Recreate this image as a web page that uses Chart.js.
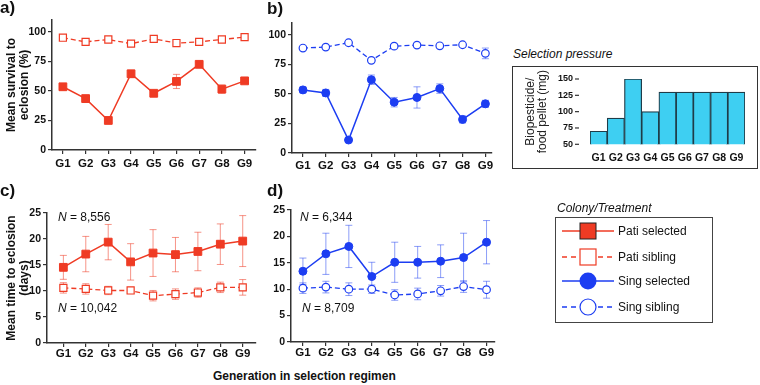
<!DOCTYPE html>
<html>
<head>
<script src="https://cdn.jsdelivr.net/npm/chart.js"></script>
<style>
  body { margin: 0; width: 760px; height: 385px; position: relative; overflow: hidden; background: #fff;
         font-family: "Liberation Sans", Arial, sans-serif; color: #111; }
  canvas { position: absolute; }
  .abs { position: absolute; white-space: nowrap; }
  .panel { font-weight: bold; font-size: 17px; line-height: 17px; }
  .note { font-size: 12px; line-height: 14px; }
  .key { position: absolute; left: 4px; font-size: 12px; line-height: 20px; height: 20px; }
  .key svg { vertical-align: top; }
  .key span { position: absolute; left: 58px; top: 0; }
</style>
</head>
<body>
<canvas id="panelA" width="262" height="175" style="left:0;top:0"></canvas>
<canvas id="panelB" width="250" height="175" style="left:250px;top:0"></canvas>
<canvas id="panelC" width="262" height="180" style="left:0;top:180px"></canvas>
<canvas id="panelD" width="250" height="180" style="left:250px;top:180px"></canvas>
<canvas id="dose" width="242" height="100" style="left:514px;top:68px"></canvas>

<div class="abs panel" style="left:0;top:-1px">a)</div>
<div class="abs panel" style="left:267px;top:0">b)</div>
<div class="abs panel" style="left:0;top:182px">c)</div>
<div class="abs panel" style="left:267px;top:182px">d)</div>

<div class="abs note" style="left:58px;top:210px"><i>N</i> = 8,556</div>
<div class="abs note" style="left:58px;top:301px"><i>N</i> = 10,042</div>
<div class="abs note" style="left:300px;top:210px"><i>N</i> = 6,344</div>
<div class="abs note" style="left:302px;top:301px"><i>N</i> = 8,709</div>
<div class="abs note" style="left:213px;top:369px;font-weight:bold">Generation in selection regimen</div>

<div class="abs note" style="left:513px;top:47px;font-style:italic">Selection pressure</div>
<div class="abs" style="left:512px;top:66px;width:244px;height:101px;border:1.5px solid #333"></div>

<div class="abs note" style="left:557px;top:201px;font-style:italic">Colony/Treatment</div>
<div class="abs" style="left:555px;top:217px;width:156px;height:104px;border:1.5px solid #444">
  <div class="key" style="top:3px">
    <svg width="54" height="20"><line x1="2" y1="10" x2="54" y2="10" stroke="#ef3b24" stroke-width="1.5"/>
      <rect x="20" y="2" width="16" height="16" fill="#ef3b24" stroke="#222" stroke-width="1"/></svg>
    <span>Pati selected</span></div>
  <div class="key" style="top:29px">
    <svg width="54" height="20"><line x1="2" y1="10" x2="54" y2="10" stroke="#ef3b24" stroke-width="1.5" stroke-dasharray="5,4"/>
      <rect x="20" y="2" width="16" height="16" fill="#fff" stroke="#ef3b24" stroke-width="1.2"/></svg>
    <span>Pati sibling</span></div>
  <div class="key" style="top:53px">
    <svg width="54" height="20"><line x1="2" y1="10" x2="54" y2="10" stroke="#1c3df2" stroke-width="1.5"/>
      <circle cx="28" cy="10" r="8.5" fill="#1c3df2"/></svg>
    <span>Sing selected</span></div>
  <div class="key" style="top:79px">
    <svg width="54" height="20"><line x1="2" y1="10" x2="54" y2="10" stroke="#1c3df2" stroke-width="1.5" stroke-dasharray="5,4"/>
      <circle cx="28" cy="10" r="8" fill="#fff" stroke="#1c3df2" stroke-width="1.2"/></svg>
    <span>Sing sibling</span></div>
</div>

<script>
const generations = ["G1", "G2", "G3", "G4", "G5", "G6", "G7", "G8", "G9"];
const survivalTicks = [0, 25, 50, 75, 100];
const timeTicks = [0, 5, 10, 15, 20, 25];
const doseTicks = [50, 75, 100, 125, 150];

// a) survival, Pati
const patiSurvSel = [53.5, 43.5, 25, 64.5, 48, 58, 72.5, 51.5, 58.5];
const patiSurvSelErr = [2, 1.5, 1, 3, 1.5, 6, 1.5, 3.5, 2];
const patiSurvSib = [95, 91.5, 93.5, 90, 94, 90.5, 91.5, 93.5, 95.5];
const patiSurvSibErr = [1, 1, 1, 1, 1, 1, 1, 1, 1];
// b) survival, Sing
const singSurvSel = [53.4, 50.8, 11, 62, 43, 47, 54.5, 28.4, 41.6];
const singSurvSelErr = [2.5, 3, 1, 4, 4, 9, 4, 3, 3];
const singSurvSib = [88.8, 89.6, 93.3, 78.4, 90.4, 91.3, 90.7, 91.6, 84.3];
const singSurvSibErr = [1, 1, 1, 1.5, 1, 1, 1, 1, 4.5];
// c) time to eclosion, Pati
const patiTimeSel = [14.55, 17.1, 19.4, 15.6, 17.3, 17.0, 17.6, 19.0, 19.6];
const patiTimeSelErr = [2.3, 3.4, 3.4, 3.5, 4.5, 3.3, 3.7, 3.9, 4.9];
const patiTimeSib = [10.6, 10.4, 10.1, 10.1, 9.1, 9.4, 9.7, 10.7, 10.7];
const patiTimeSibErr = [1, 1, 0.8, 0.6, 1, 1, 0.9, 1, 1.5];
// d) time to eclosion, Sing
const singTimeSel = [13.4, 16.7, 18.1, 12.4, 15.1, 15.1, 15.3, 16.0, 18.9];
const singTimeSelErr = [2.5, 3.9, 4, 2.7, 3.8, 3, 3.1, 4.6, 4.1];
const singTimeSib = [10.2, 10.4, 10.0, 10.0, 8.9, 9.1, 9.7, 10.5, 9.9];
const singTimeSibErr = [1, 1.1, 1.2, 0.8, 1, 1.1, 1, 1.1, 1.6];
// selection pressure
const doseMg = [70, 90, 150, 100, 130, 130, 130, 130, 130];

const RED = "#ef3b24", BLUE = "#1c3df2", AXIS = "#333";
const FONT = '"Liberation Sans", Arial, sans-serif';

// draws the +/- error bars behind the markers
const errorBars = {
  id: "errorBars",
  beforeDatasetsDraw(chart) {
    const ctx = chart.ctx, y = chart.scales.y;
    chart.data.datasets.forEach((ds, i) => {
      if (!ds.errors) return;
      ctx.save();
      ctx.strokeStyle = ds.errorColor;
      ctx.lineWidth = 1;
      chart.getDatasetMeta(i).data.forEach((pt, j) => {
        const v = ds.data[j].y, e = ds.errors[j];
        const top = y.getPixelForValue(v + e), bot = y.getPixelForValue(v - e);
        ctx.beginPath();
        ctx.moveTo(pt.x, top); ctx.lineTo(pt.x, bot);
        ctx.moveTo(pt.x - 3.5, top); ctx.lineTo(pt.x + 3.5, top);
        ctx.moveTo(pt.x - 3.5, bot); ctx.lineTo(pt.x + 3.5, bot);
        ctx.stroke();
      });
      ctx.restore();
    });
  }
};

const pts = vals => vals.map((v, i) => ({ x: i + 1, y: v }));

function selected(vals, errs, color, style, r) {
  return { data: pts(vals), errors: errs, errorColor: color === RED ? "rgba(239,59,36,0.55)" : "rgba(28,61,242,0.5)",
    borderColor: color, borderWidth: 1.5, pointStyle: style, pointRadius: r,
    pointBackgroundColor: color, pointBorderColor: color, pointBorderWidth: 1 };
}
function sibling(vals, errs, color, style, r) {
  return { data: pts(vals), errors: errs, errorColor: color === RED ? "rgba(239,59,36,0.55)" : "rgba(28,61,242,0.5)",
    borderColor: color, borderWidth: 1.3, borderDash: [5, 3], pointStyle: style, pointRadius: r,
    pointBackgroundColor: "#fff", pointBorderColor: color, pointBorderWidth: 1.2 };
}

function linePanel(id, datasets, b) {
  new Chart(document.getElementById(id), {
    type: "line",
    data: { datasets: datasets },
    options: {
      responsive: false,
      animation: false,
      layout: { padding: { top: b.top, right: b.right } },
      plugins: { legend: { display: false }, tooltip: { enabled: false } },
      scales: {
        x: {
          type: "linear", min: b.xmin, max: b.xmax,
          afterBuildTicks: s => { s.ticks = generations.map((g, i) => ({ value: i + 1 })); },
          afterFit: s => { s.height = b.xh; },
          ticks: { callback: v => generations[v - 1], color: "#111", padding: b.xpad, maxRotation: 0, autoSkip: false,
                   font: { family: FONT, size: 11.5, weight: "bold" } },
          grid: { drawOnChartArea: false, drawTicks: true, tickLength: 4, color: AXIS, lineWidth: 1.2 },
          border: { color: AXIS, width: 1.5 }
        },
        y: {
          min: 0, max: b.ymax,
          afterBuildTicks: s => { s.ticks = b.ticks.map(v => ({ value: v })); },
          afterFit: s => { s.width = b.yw; },
          ticks: { color: "#111", padding: 2, autoSkip: false, font: { family: FONT, size: 10.5, weight: "bold" } },
          grid: { drawOnChartArea: false, drawTicks: true, tickLength: 4, color: AXIS, lineWidth: 1.2 },
          border: { color: AXIS, width: 1.5 },
          title: { display: !!b.title, text: b.title, color: "#111", padding: { top: 5, bottom: 0 },
                   font: { family: FONT, size: 12, weight: "bold", lineHeight: 1.1 } }
        }
      }
    },
    plugins: [errorBars]
  });
}

linePanel("panelA", [
  sibling(patiSurvSib, patiSurvSibErr, RED, "rect", 5),
  selected(patiSurvSel, patiSurvSelErr, RED, "rect", 5.5)
], { top: 20, right: 5, yw: 52, xh: 25, xpad: 3, xmin: 0.52, xmax: 9.48, ymax: 110, ticks: survivalTicks,
     title: ["Mean survival to", "eclosion (%)"] });

linePanel("panelB", [
  sibling(singSurvSib, singSurvSibErr, BLUE, "circle", 3.8),
  selected(singSurvSel, singSurvSelErr, BLUE, "circle", 4)
], { top: 23, right: 8, yw: 42, xh: 22, xpad: 2, xmin: 0.52, xmax: 9.29, ymax: 110, ticks: survivalTicks });

linePanel("panelC", [
  sibling(patiTimeSib, patiTimeSibErr, RED, "rect", 5),
  selected(patiTimeSel, patiTimeSelErr, RED, "rect", 5.5)
], { top: 33, right: 4, yw: 47, xh: 17, xpad: 0, xmin: 0.27, xmax: 9.57, ymax: 25, ticks: timeTicks,
     title: ["Mean time to eclosion", "(days)"] });

linePanel("panelD", [
  sibling(singTimeSib, singTimeSibErr, BLUE, "circle", 3.8),
  selected(singTimeSel, singTimeSelErr, BLUE, "circle", 4)
], { top: 30, right: 5, yw: 41, xh: 18, xpad: 0, xmin: 0.48, xmax: 9.36, ymax: 25, ticks: timeTicks });

// short tick marks left of the bars, detached from the plot
const doseTickMarks = {
  id: "doseTickMarks",
  afterDraw(chart) {
    const ctx = chart.ctx, y = chart.scales.y, left = chart.chartArea.left;
    ctx.save();
    ctx.strokeStyle = AXIS;
    ctx.lineWidth = 1.2;
    doseTicks.forEach(v => {
      const py = y.getPixelForValue(v);
      ctx.beginPath();
      ctx.moveTo(left - 15, py); ctx.lineTo(left - 11, py);
      ctx.stroke();
    });
    ctx.restore();
  }
};

new Chart(document.getElementById("dose"), {
  type: "bar",
  data: {
    labels: generations,
    datasets: [{ data: doseMg, backgroundColor: "#3ecff2", borderColor: "#1f3c48", borderWidth: 1.2,
                 barPercentage: 1, categoryPercentage: 1 }]
  },
  options: {
    responsive: false,
    animation: false,
    layout: { padding: { top: 11, right: 11 } },
    plugins: { legend: { display: false }, tooltip: { enabled: false } },
    scales: {
      x: {
        afterFit: s => { s.height = 23.7; },
        grid: { drawOnChartArea: false, drawTicks: false },
        border: { display: false },
        ticks: { color: "#111", padding: 8, autoSkip: false, maxRotation: 0, minRotation: 0,
                 font: { family: FONT, size: 10.5, weight: "bold" } }
      },
      y: {
        min: 50, max: 150,
        afterBuildTicks: s => { s.ticks = doseTicks.map(v => ({ value: v })); },
        afterFit: s => { s.width = 76; },
        // invisible tick marks only push the labels away from the bars
        grid: { drawOnChartArea: false, drawTicks: true, tickLength: 13, color: "rgba(0,0,0,0)" },
        border: { display: false },
        ticks: { color: "#111", padding: 4, autoSkip: false, font: { family: FONT, size: 9, weight: "bold" } },
        title: { display: true, text: ["Biopesticide/", "food pellet (mg)"], color: "#222",
                 padding: { top: 10, bottom: 0 }, font: { family: FONT, size: 12, lineHeight: 1.05 } }
      }
    }
  },
  plugins: [doseTickMarks]
});
</script>
</body>
</html>
